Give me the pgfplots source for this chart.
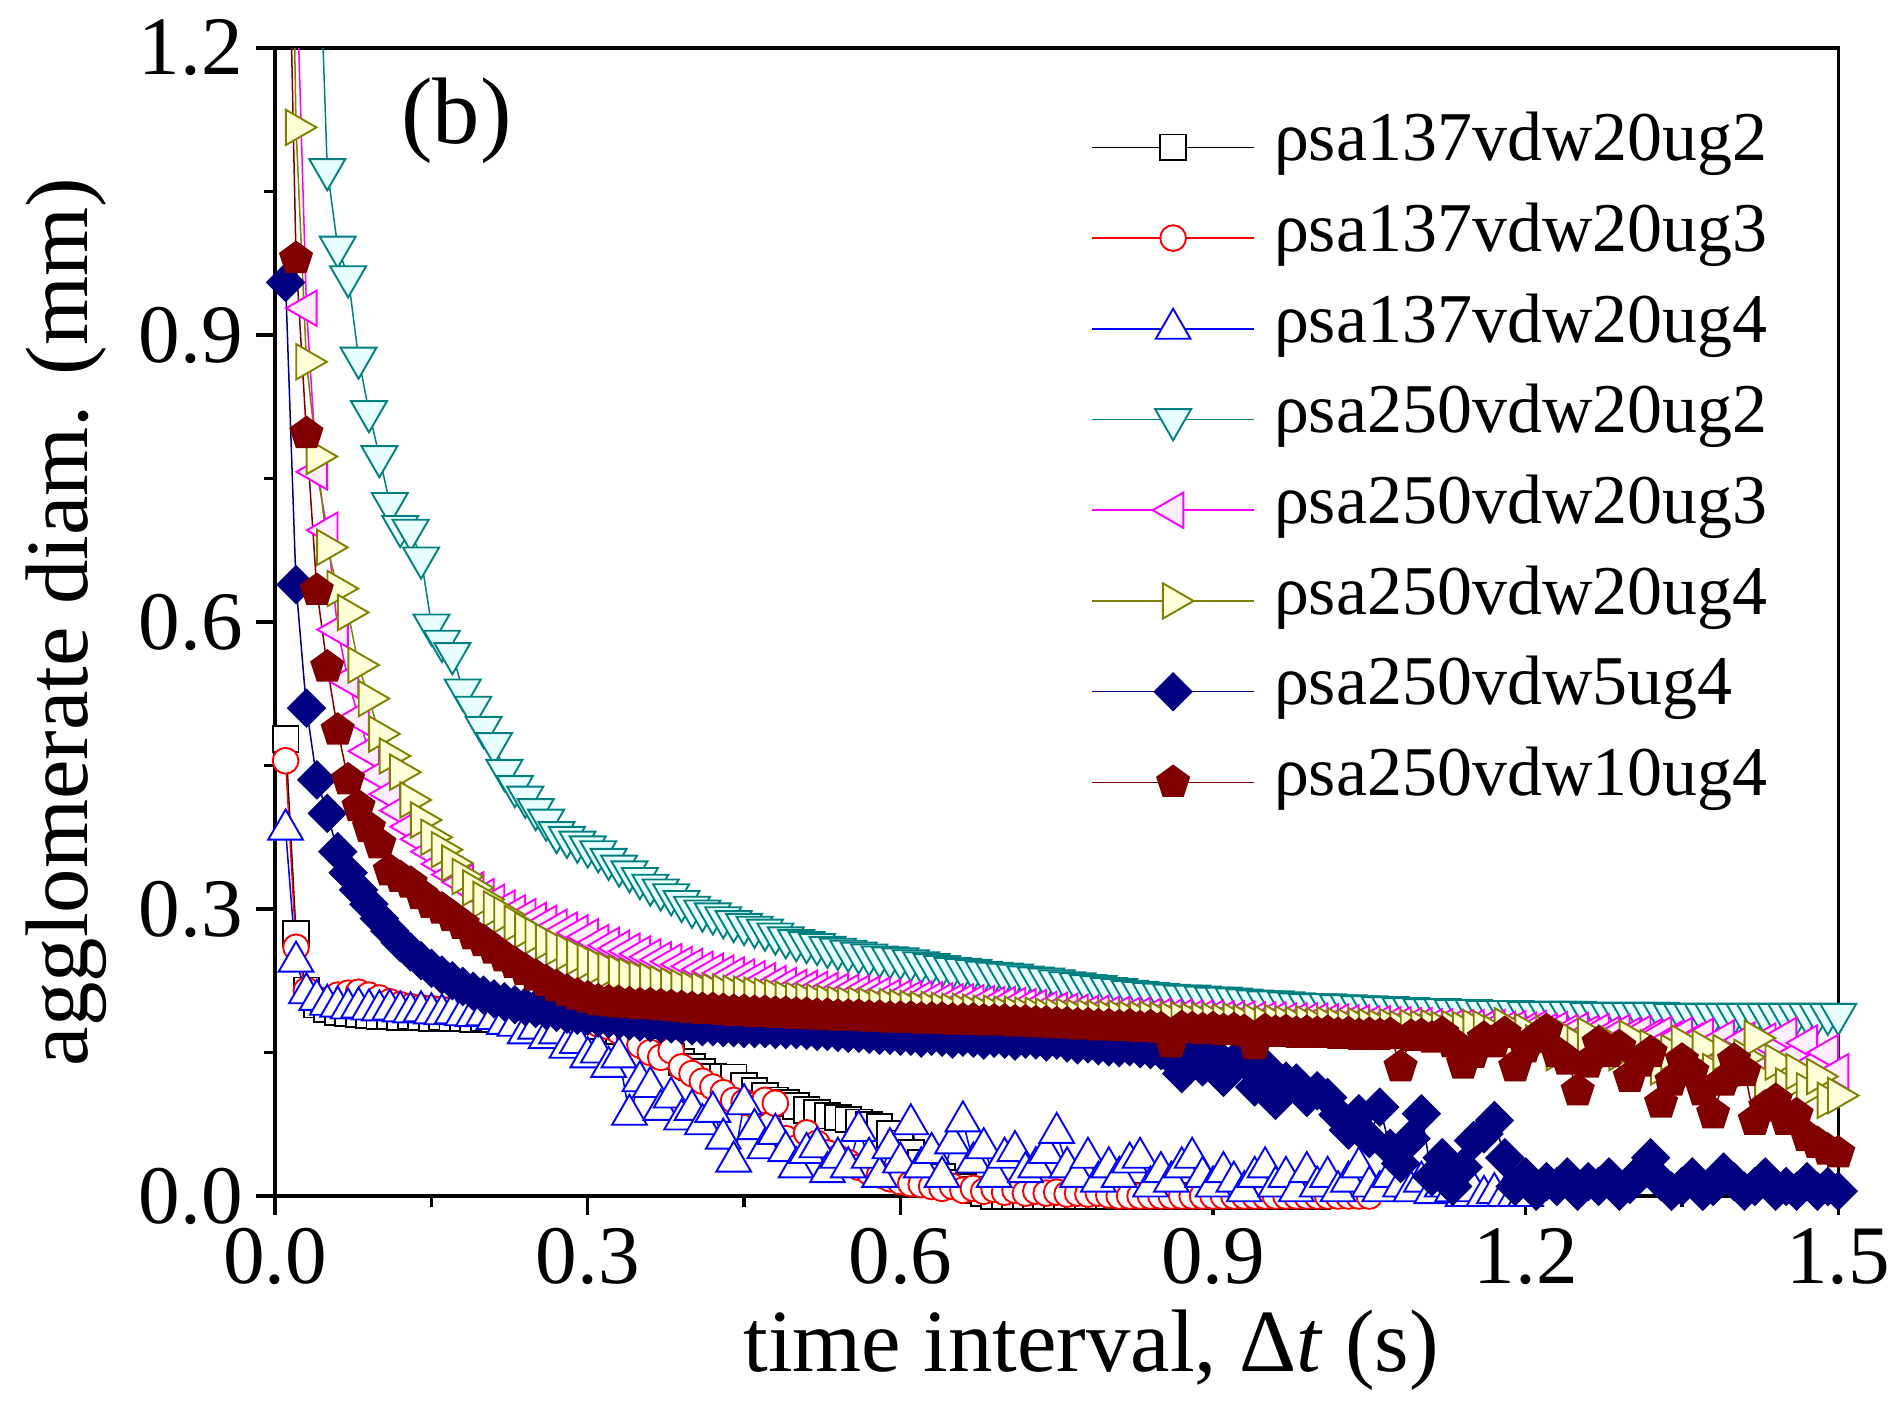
\documentclass[border=0pt]{standalone}
\usepackage{pgfplots}
\usepackage{pgfplotstable}
\pgfplotsset{compat=1.18}
\usetikzlibrary{plotmarks}
\usepackage{fontspec}
\setmainfont{Liberation Serif}
\definecolor{cred}{RGB}{255,0,0}
\definecolor{cblue}{RGB}{0,0,255}
\definecolor{cteal}{RGB}{0,128,128}
\definecolor{cmag}{RGB}{255,0,255}
\definecolor{colive}{RGB}{128,128,0}
\definecolor{cnavy}{RGB}{0,0,128}
\definecolor{cdred}{RGB}{128,0,0}
\definecolor{fteal}{RGB}{232,255,255}
\definecolor{fmag}{RGB}{255,238,255}
\definecolor{folive}{RGB}{255,255,215}
\pgfplotstableread{
x s1 s2 s3 s4 s5 s6 s7 s8
0.01 0.478 0.455 0.383 1.90 1.90 1.80 0.955 1.50
0.02 0.274 0.260 0.245 1.70 1.30 1.117 0.639 0.980
0.03 0.215 0.215 0.212 1.55 0.928 0.872 0.510 0.797
0.04 0.200 0.205 0.205 1.39 0.757 0.773 0.435 0.633
0.05 0.195 0.205 0.200 1.073 0.696 0.678 0.400 0.553
0.06 0.192 0.210 0.198 0.992 0.592 0.635 0.360 0.487
0.07 0.191 0.212 0.196 0.961 0.539 0.610 0.338 0.435
0.08 0.190 0.213 0.197 0.876 0.500 0.555 0.320 0.407
0.09 0.189 0.210 0.195 0.820 0.465 0.520 0.305 0.385
0.10 0.188 0.207 0.194 0.773 0.440 0.483 0.290 0.368
0.11 0.188 0.203 0.195 0.724 0.420 0.460 0.277 0.340
0.12 0.187 0.200 0.193 0.700 0.403 0.443 0.265 0.333
0.13 0.188 0.198 0.192 0.696 0.386 0.414 0.255 0.327
0.14 0.187 0.197 0.193 0.667 0.373 0.393 0.246 0.315
0.15 0.186 0.196 0.191 0.597 0.360 0.375 0.238 0.306
0.16 0.187 0.195 0.190 0.580 0.347 0.362 0.231 0.300
0.17 0.186 0.195 0.191 0.567 0.336 0.348 0.225 0.292
0.18 0.186 0.194 0.189 0.529 0.328 0.334 0.219 0.284
0.19 0.185 0.193 0.188 0.511 0.320 0.322 0.214 0.273
0.20 0.186 0.192 0.189 0.490 0.313 0.310 0.210 0.266
0.21 0.185 0.191 0.185 0.473 0.307 0.300 0.206 0.258
0.22 0.184 0.190 0.180 0.445 0.301 0.294 0.203 0.250
0.23 0.184 0.190 0.178 0.428 0.296 0.285 0.200 0.243
0.24 0.183 0.189 0.170 0.417 0.292 0.278 0.198 0.236
0.25 0.183 0.188 0.175 0.404 0.288 0.272 0.196 0.230
0.26 0.182 0.188 0.165 0.393 0.285 0.266 0.194 0.224
0.27 0.182 0.187 0.170 0.380 0.281 0.260 0.192 0.219
0.28 0.181 0.186 0.155 0.375 0.278 0.255 0.190 0.214
0.29 0.180 0.185 0.160 0.370 0.275 0.250 0.189 0.210
0.30 0.180 0.184 0.145 0.365 0.271 0.245 0.188 0.207
0.31 0.178 0.180 0.150 0.360 0.265 0.240 0.186 0.204
0.32 0.175 0.177 0.135 0.352 0.262 0.236 0.185 0.203
0.33 0.172 0.172 0.145 0.345 0.259 0.233 0.184 0.202
0.34 0.168 0.165 0.085 0.339 0.256 0.230 0.183 0.201
0.35 0.163 0.158 0.120 0.332 0.253 0.227 0.182 0.200
0.36 0.158 0.150 0.114 0.325 0.250 0.225 0.181 0.200
0.37 0.152 0.145 0.090 0.320 0.247 0.222 0.180 0.199
0.38 0.146 0.152 0.103 0.315 0.245 0.220 0.180 0.198
0.39 0.140 0.135 0.080 0.308 0.242 0.218 0.179 0.197
0.40 0.135 0.128 0.090 0.302 0.240 0.216 0.178 0.196
0.41 0.130 0.120 0.075 0.298 0.237 0.215 0.177 0.195
0.42 0.125 0.114 0.088 0.295 0.235 0.214 0.177 0.195
0.43 0.124 0.108 0.060 0.291 0.233 0.213 0.176 0.194
0.44 0.124 0.100 0.036 0.287 0.231 0.212 0.176 0.193
0.45 0.115 0.098 0.096 0.284 0.229 0.211 0.175 0.193
0.46 0.110 0.095 0.070 0.281 0.227 0.210 0.175 0.192
0.47 0.105 0.100 0.050 0.278 0.225 0.209 0.175 0.192
0.48 0.100 0.097 0.065 0.274 0.222 0.208 0.174 0.191
0.49 0.097 0.060 0.047 0.270 0.220 0.206 0.174 0.191
0.50 0.094 0.050 0.030 0.267 0.218 0.205 0.174 0.190
0.51 0.090 0.066 0.045 0.265 0.217 0.204 0.173 0.190
0.52 0.087 0.055 0.051 0.263 0.216 0.203 0.172 0.189
0.53 0.084 0.045 0.025 0.260 0.215 0.202 0.172 0.189
0.54 0.082 0.040 0.040 0.258 0.214 0.201 0.171 0.188
0.55 0.080 0.035 0.030 0.256 0.213 0.200 0.170 0.188
0.56 0.077 0.030 0.068 0.254 0.212 0.200 0.170 0.188
0.57 0.074 0.025 0.040 0.252 0.211 0.199 0.169 0.187
0.58 0.072 0.022 0.020 0.250 0.210 0.198 0.168 0.187
0.59 0.065 0.018 0.050 0.249 0.208 0.198 0.168 0.186
0.60 0.055 0.015 0.035 0.248 0.207 0.197 0.167 0.186
0.61 0.045 0.013 0.075 0.246 0.206 0.196 0.167 0.186
0.62 0.035 0.012 0.030 0.244 0.206 0.195 0.165 0.185
0.63 0.028 0.010 0.045 0.242 0.205 0.195 0.167 0.185
0.64 0.020 0.008 0.020 0.240 0.204 0.194 0.166 0.185
0.65 0.014 0.010 0.055 0.238 0.203 0.193 0.164 0.184
0.66 0.010 0.006 0.078 0.237 0.203 0.193 0.166 0.184
0.67 0.006 0.008 0.035 0.236 0.202 0.192 0.165 0.184
0.68 0.003 0.005 0.050 0.234 0.201 0.191 0.163 0.183
0.69 0 0.007 0.020 0.233 0.200 0.191 0.165 0.183
0.70 0 0.004 0.040 0.232 0.200 0.190 0.164 0.183
0.71 0 0.006 0.047 0.231 0.199 0.190 0.162 0.182
0.72 0 0.003 0.025 0.229 0.198 0.189 0.164 0.182
0.73 0 0.005 0.030 0.228 0.197 0.189 0.163 0.181
0.74 0 0.003 0.045 0.227 0.195 0.188 0.161 0.181
0.75 0 0.004 0.066 0.225 0.194 0.188 0.163 0.180
0.76 0 0.002 0.030 0.223 0.193 0.188 0.160 0.180
0.77 0 0.003 0.020 0.222 0.192 0.187 0.158 0.179
0.78 0 0.002 0.040 0.220 0.191 0.187 0.159 0.179
0.79 0 0.003 0.015 0.219 0.191 0.186 0.157 0.178
0.80 0 0.001 0.030 0.217 0.190 0.186 0.156 0.178
0.81 0 0 0.020 0.216 0.190 0.186 0.155 0.177
0.82 0 0 0.035 0.214 0.189 0.185 0.156 0.178
0.83 0 0 0.040 0.213 0.189 0.185 0.154 0.176
0.84 0 0 0.010 0.212 0.188 0.185 0.153 0.177
0.85 0 0 0.025 0.211 0.188 0.184 0.152 0.175
0.86 0 0 0.015 0.210 0.187 0.184 0.145 0.160
0.87 0 0 0.030 0.209 0.187 0.184 0.128 0.176
0.88 0 0 0.040 0.209 0.186 0.183 0.150 0.175
0.89 0 0 0.020 0.208 0.186 0.183 0.135 0.174
0.90 0 0 0.010 0.207 0.186 0.183 0.150 0.175
0.91 0 0 0.025 0.207 0.185 0.182 0.124 0.173
0.92 0 0 0.015 0.206 0.185 0.183 0.140 0.174
0.93 0 0 0.005 0.205 0.185 0.181 0.142 0.172
0.94 0 0 0.020 0.204 0.184 0.182 0.114 0.158
0.95 0 0 0.030 0.203 0.184 0.180 0.135 0.173
0.96 0 0 0.010 0.203 0.184 0.181 0.100 0.171
0.97 0 0 0.020 0.202 0.183 0.180 0.120 0.172
0.98 0 0 0.005 0.201 0.183 0.179 0.118 0.170
0.99 0 0 0.025 0.200 0.183 0.180 0.103 0.171
1.00 0 0 0.010 0.200 0.183 0.178 0.110 0.170
1.01 nan 0 0.020 0.200 0.182 0.179 0.103 0.171
1.02 nan 0 0.005 0.199 0.182 0.178 0.085 0.169
1.03 nan 0 0.015 0.199 0.181 0.177 0.069 0.170
1.04 nan 0 0.030 0.198 0.181 0.178 0.086 0.168
1.05 nan 0 0.010 0.198 0.180 0.177 0.060 0.169
1.06 nan nan 0.005 0.197 0.180 0.176 0.093 0.168
1.07 nan nan 0.020 0.197 0.179 0.177 0.050 0.169
1.08 nan nan 0.010 0.196 0.179 0.175 0.034 0.135
1.09 nan nan 0.005 0.196 0.178 0.176 0.060 0.167
1.10 nan nan 0.015 0.195 0.178 0.175 0.086 0.168
1.11 nan nan 0.003 0.195 0.177 0.176 0.020 0.165
1.12 nan nan 0.010 0.195 0.177 0.174 0.040 0.170
1.13 nan nan 0.005 0.194 0.176 0.175 0.010 0.160
1.14 nan nan 0 0.194 0.176 0.174 0.030 0.138
1.15 nan nan 0.005 0.194 0.176 0.176 0.058 0.149
1.16 nan nan 0 0.193 0.175 0.175 0.065 0.165
1.17 nan nan 0.003 0.193 0.176 0.170 0.079 0.160
1.18 nan nan 0 0.193 0.174 0.178 0.040 0.170
1.19 nan nan 0 0.193 0.175 0.165 0.010 0.135
1.20 nan nan 0 0.192 0.173 0.172 0.020 0.155
1.21 nan nan nan 0.192 0.175 0.160 0.005 0.165
1.22 nan nan nan 0.192 0.172 0.170 0.015 0.173
1.23 nan nan nan 0.192 0.174 0.150 0.010 0.150
1.24 nan nan nan 0.192 0.171 0.165 0.020 0.142
1.25 nan nan nan 0.192 0.173 0.158 0.005 0.110
1.26 nan nan nan 0.191 0.170 0.168 0.015 0.139
1.27 nan nan nan 0.191 0.172 0.145 0.010 0.160
1.28 nan nan nan 0.191 0.169 0.160 0.020 0.150
1.29 nan nan nan 0.191 0.171 0.150 0.005 0.156
1.30 nan nan nan 0.191 0.168 0.165 0.012 0.124
1.31 nan nan nan 0.191 0.170 0.140 0.025 0.140
1.32 nan nan nan 0.191 0.166 0.155 0.040 0.150
1.33 nan nan nan 0.191 0.169 0.135 0.015 0.097
1.34 nan nan nan 0.190 0.164 0.150 0.005 0.120
1.35 nan nan nan 0.190 0.168 0.160 0.010 0.142
1.36 nan nan nan 0.190 0.162 0.140 0.020 0.130
1.37 nan nan nan 0.190 0.167 0.155 0.005 0.110
1.38 nan nan nan 0.190 0.158 0.130 0.010 0.086
1.39 nan nan nan 0.190 0.165 0.150 0.025 0.120
1.40 nan nan nan 0.190 0.155 0.125 0.015 0.142
1.41 nan nan nan 0.190 0.163 0.145 0.005 0.130
1.42 nan nan nan 0.190 0.150 0.165 0.010 0.079
1.43 nan nan nan 0.190 0.162 0.120 0.020 0.093
1.44 nan nan nan 0.190 0.155 0.140 0.005 0.100
1.45 nan nan nan 0.190 0.168 0.115 0.010 0.079
1.46 nan nan nan 0.190 0.148 0.130 0.005 0.085
1.47 nan nan nan 0.190 0.160 0.110 0.015 0.062
1.48 nan nan nan 0.190 0.140 0.125 0.005 0.055
1.49 nan nan nan 0.190 0.150 0.100 0.010 0.048
1.50 nan nan nan 0.190 0.130 0.105 0.005 0.045
}\data
\begin{document}
\begin{tikzpicture}
\begin{axis}[
  name=ax,
  scale only axis,
  width=413.5pt, height=303.7pt,
  xmin=0, xmax=1.5, ymin=0, ymax=1.2,
  xtick={0,0.3,0.6,0.9,1.2,1.5},
  ytick={0,0.3,0.6,0.9,1.2},
  minor xtick={0.15,0.45,0.75,1.05,1.35},
  minor ytick={0.15,0.45,0.75,1.05},
  tick align=outside, tick pos=left,
  major tick length=5pt, minor tick length=3pt,
  every tick/.style={black, line width=0.9pt},
  axis line style={line width=0.9pt},
  /pgf/number format/fixed,
  /pgf/number format/fixed zerofill,
  /pgf/number format/precision=1,
  /pgf/number format/assume math mode=true,
  ticklabel style={font=\fontsize{22}{22}\selectfont},
  xlabel={time interval, Δ\textit{t} (s)},
  ylabel={agglomerate diam. (mm)},
  every axis x label/.style={at={(axis description cs:0.522,-0.134)}, anchor=center, font=\fontsize{23.5}{26}\selectfont},
  every axis y label/.style={at={(axis description cs:-0.1337,0.5)}, anchor=center, rotate=90, font=\fontsize{23.5}{26}\selectfont},
  legend style={
    at={(axis description cs:0.522,0.953)}, anchor=north west,
    draw=none, fill=none, inner sep=0pt, outer sep=0pt,
    font=\fontsize{18.5}{22}\selectfont,
    row sep=0pt,
    nodes={inner sep=0pt, text height=15.5pt, text depth=8.5pt},
    /tikz/every odd column/.append style={column sep=5pt},
  },
  legend cell align=left,
  legend image code/.code={\draw[mark repeat=2,mark phase=2] plot coordinates {(0pt,0pt) (21.5pt,0pt) (43pt,0pt)};},
]
\addplot[black, line width=0.4pt, mark=square*, mark size=3.4pt, mark options={fill=white, draw=black, line width=0.5pt}] table[x=x,y=s1] {\data};
\addlegendentry{ρsa137vdw20ug2}
\addplot[cred, line width=0.4pt, mark=*, mark size=3.4pt, mark options={fill=white, draw=cred, line width=0.5pt}] table[x=x,y=s2] {\data};
\addlegendentry{ρsa137vdw20ug3}
\addplot[cblue, line width=0.4pt, mark=triangle*, mark size=5.3pt, mark options={fill=white, draw=cblue, line width=0.5pt}] table[x=x,y=s3] {\data};
\addlegendentry{ρsa137vdw20ug4}
\addplot[cteal, line width=0.4pt, mark=triangle*, mark size=5.5pt, mark options={fill=fteal, draw=cteal, line width=0.5pt, rotate=180}] table[x=x,y=s4] {\data};
\addlegendentry{ρsa250vdw20ug2}
\addplot[cmag, line width=0.4pt, mark=triangle*, mark size=5.4pt, mark options={fill=fmag, draw=cmag, line width=0.5pt, rotate=90}] table[x=x,y=s5] {\data};
\addlegendentry{ρsa250vdw20ug3}
\addplot[colive, line width=0.4pt, mark=triangle*, mark size=5.4pt, mark options={fill=folive, draw=colive, line width=0.5pt, rotate=-90}] table[x=x,y=s6] {\data};
\addlegendentry{ρsa250vdw20ug4}
\addplot[cnavy, line width=0.4pt, mark=square*, mark size=3.5pt, mark options={fill=cnavy, draw=cnavy, rotate=45}] table[x=x,y=s7] {\data};
\addlegendentry{ρsa250vdw5ug4}
\addplot[cdred, line width=0.4pt, mark=pentagon*, mark size=4.5pt, mark options={fill=cdred, draw=cdred}] table[x=x,y=s8] {\data};
\addlegendentry{ρsa250vdw10ug4}
\node[font=\fontsize{25}{25}\selectfont] at (axis description cs:0.116,0.937) {(b)};
\end{axis}
\pgfresetboundingbox
\path[use as bounding box] (-72.8pt,-56.9pt) rectangle (427.2pt,316.4pt);
\end{tikzpicture}
\end{document}
